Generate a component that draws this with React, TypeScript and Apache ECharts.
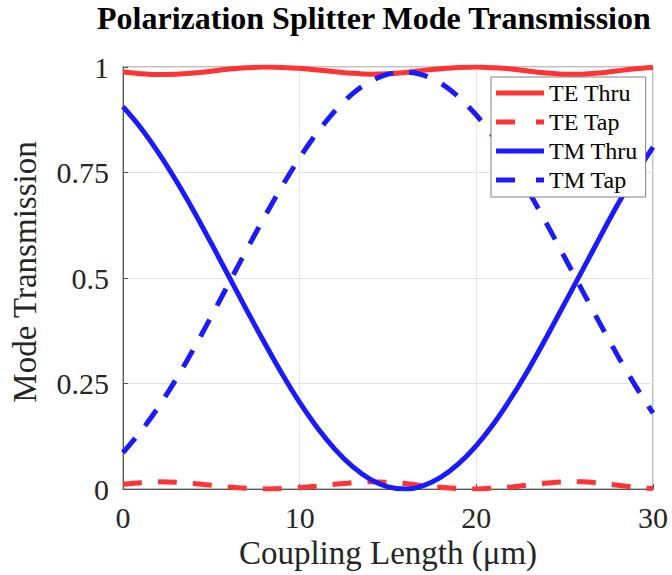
import React, { useEffect, useRef } from "react";
import * as echarts from "echarts";

const coupling = [0, 1, 2, 3, 4, 5, 6, 7, 8, 9, 10, 11, 12, 13, 14, 15, 16, 17, 18, 19, 20, 21, 22, 23, 24, 25, 26, 27, 28, 29, 30];
const teThru = [0.988, 0.984, 0.982, 0.983, 0.986, 0.990, 0.995, 0.998, 1.0, 0.999, 0.997, 0.993, 0.989, 0.985, 0.983, 0.984, 0.987, 0.992, 0.996, 0.999, 1.0, 0.998, 0.995, 0.990, 0.986, 0.983, 0.983, 0.986, 0.991, 0.996, 0.999];
const teTap = [0.011, 0.015, 0.017, 0.016, 0.013, 0.009, 0.005, 0.002, 0.0, 0.001, 0.003, 0.007, 0.011, 0.015, 0.017, 0.016, 0.013, 0.008, 0.004, 0.001, 0.0, 0.002, 0.005, 0.010, 0.014, 0.017, 0.017, 0.014, 0.009, 0.004, 0.001];
const tmThru = [0.906, 0.856, 0.797, 0.731, 0.659, 0.582, 0.503, 0.424, 0.347, 0.273, 0.205, 0.145, 0.094, 0.053, 0.023, 0.005, 0.0, 0.008, 0.028, 0.060, 0.103, 0.156, 0.218, 0.287, 0.362, 0.440, 0.518, 0.597, 0.674, 0.745, 0.810];
const tmTap = [0.086, 0.136, 0.194, 0.260, 0.332, 0.409, 0.488, 0.567, 0.644, 0.717, 0.785, 0.845, 0.896, 0.937, 0.966, 0.983, 0.988, 0.981, 0.961, 0.929, 0.886, 0.833, 0.771, 0.702, 0.627, 0.549, 0.470, 0.392, 0.316, 0.245, 0.180];
const yTicks = [0, 0.25, 0.5, 0.75, 1];

const RED = "#ff3333";
const BLUE = "#1a1aff";
const FONT = "Liberation Serif";
const SOLID_ICON = "path://M0,0h48v5h-48z";
const DASH_ICON = "path://M0,0h19v5h-19zM40,0h8v5h-8z";

function pairs(ys: number[]) {
  return coupling.map((x, i) => [x, ys[i]]);
}

export default function App() {
  const ref = useRef<HTMLDivElement>(null);
  useEffect(() => {
    if (!ref.current) return;
    const chart = echarts.init(ref.current, undefined, { renderer: "svg" });
    const mk = (name: string, ys: number[], color: string, dashed: boolean) => ({
      name,
      type: "line",
      data: pairs(ys),
      smooth: 0.3,
      symbol: "none",
      showSymbol: false,
      lineStyle: { color, width: 5, type: dashed ? [19, 16] : "solid", cap: "butt" },
      itemStyle: { color },
      z: 3,
    });
    chart.setOption({
      animation: false,
      backgroundColor: "#ffffff",
      textStyle: { fontFamily: FONT },
      title: {
        text: "Polarization Splitter Mode Transmission",
        left: 97,
        top: 2,
        padding: 0,
        textStyle: { fontFamily: FONT, fontWeight: "bold", fontSize: 32, color: "#000" },
      },
      grid: {
        left: 117,
        right: 19,
        top: 67,
        bottom: 86,
        show: true,
        borderColor: "#808080",
        borderWidth: 1,
        backgroundColor: "transparent",
      },
      legend: {
        orient: "vertical",
        left: 491,
        top: 77,
        padding: [3, 8, 4, 5],
        itemWidth: 48,
        itemHeight: 5,
        itemGap: 3,
        backgroundColor: "#ffffff",
        borderColor: "#808080",
        borderWidth: 1,
        borderRadius: 0,
        textStyle: { fontFamily: FONT, fontSize: 24, color: "#000", lineHeight: 26 },
        data: [
          { name: "TE Thru", icon: SOLID_ICON },
          { name: "TE Tap", icon: DASH_ICON },
          { name: "TM Thru", icon: SOLID_ICON },
          { name: "TM Tap", icon: DASH_ICON },
        ],
      },
      xAxis: {
        type: "value",
        min: 0,
        max: 30,
        interval: 10,
        name: "Coupling Length (\u03bcm)",
        nameLocation: "middle",
        nameGap: 43,
        nameTextStyle: { fontFamily: FONT, fontSize: 33, color: "#262626" },
        axisLine: { show: true, lineStyle: { color: "#555", width: 1 } },
        axisTick: { show: true, inside: true, length: 5, lineStyle: { color: "#555" } },
        axisLabel: { fontFamily: FONT, fontSize: 30, color: "#262626", margin: 13 },
        splitLine: { show: true, lineStyle: { color: "#e3e3e3", width: 1 } },
      },
      yAxis: {
        type: "value",
        min: 0,
        max: 1,
        interval: 0.25,
        name: "Mode Transmission",
        nameLocation: "middle",
        nameGap: 82,
        nameTextStyle: { fontFamily: FONT, fontSize: 33, color: "#262626", padding: [0, 0, 0, 12] },
        axisLine: { show: true, lineStyle: { color: "#555", width: 1 } },
        axisTick: { show: true, inside: true, length: 5, lineStyle: { color: "#555" } },
        axisLabel: {
          fontFamily: FONT,
          fontSize: 30,
          color: "#262626",
          margin: 14,
          formatter: (v: number) => {
            const t = yTicks.find((y) => Math.abs(y - v) < 1e-9);
            return t === undefined ? "" : String(t);
          },
        },
        splitLine: { show: true, lineStyle: { color: "#e3e3e3", width: 1 } },
      },
      series: [
        mk("TE Thru", teThru, RED, false),
        mk("TE Tap", teTap, RED, true),
        mk("TM Thru", tmThru, BLUE, false),
        mk("TM Tap", tmTap, BLUE, true),
      ],
    });
    return () => chart.dispose();
  }, []);
  return (
    <div
      ref={ref}
      style={{ position: "fixed", left: 0, top: 0, width: 672, height: 575, background: "#fff" }}
    />
  );
}
